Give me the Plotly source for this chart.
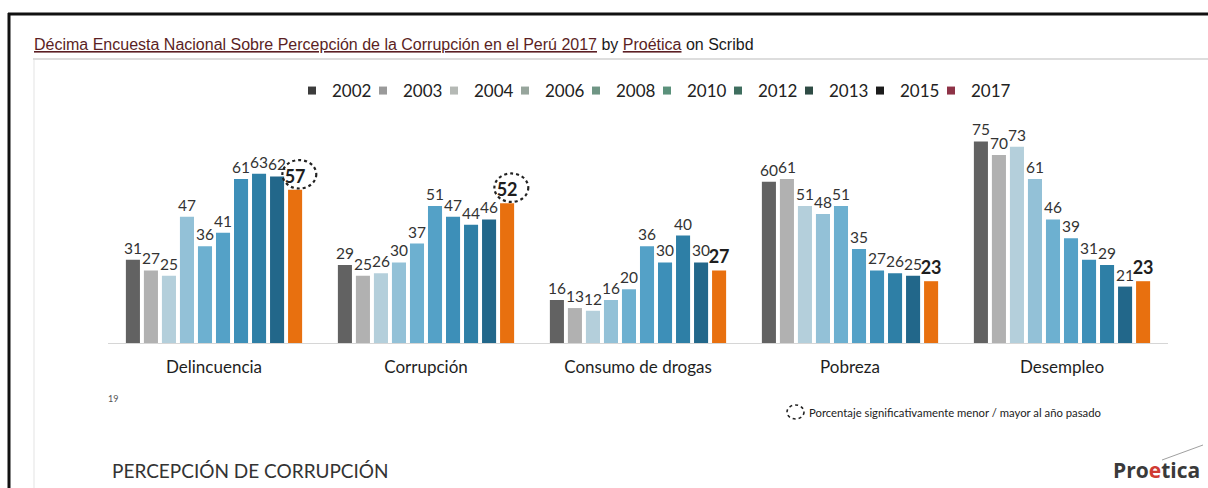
import plotly.graph_objects as go

categories = ["Delincuencia", "Corrupción", "Consumo de drogas", "Pobreza", "Desempleo"]
years = ["2002", "2003", "2004", "2006", "2008", "2010", "2012", "2013", "2015", "2017"]

v2002 = [31, 29, 16, 60, 75]
v2003 = [27, 25, 13, 61, 70]
v2004 = [25, 26, 12, 51, 73]
v2006 = [47, 30, 16, 48, 61]
v2008 = [36, 37, 20, 51, 46]
v2010 = [41, 51, 36, 35, 39]
v2012 = [61, 47, 30, 27, 31]
v2013 = [63, 44, 40, 26, 29]
v2015 = [62, 46, 30, 25, 21]
v2017 = [57, 52, 27, 23, 23]
series = [v2002, v2003, v2004, v2006, v2008, v2010, v2012, v2013, v2015, v2017]

significant = ["Delincuencia", "Corrupción"]

bar_colors = ["#626262", "#b1b1b1", "#b4cfdb", "#93c1d7", "#6db0d0", "#54a1c7",
              "#3d8fb8", "#2e7fa6", "#22678a", "#e8700f"]
legend_colors = ["#3c3c3c", "#9a9a9a", "#b5b9b5", "#97a59c", "#6f9584", "#5b917b",
                 "#3f6e5f", "#2f4c45", "#1c1c1c", "#8e3347"]

FONT = "Lato"
W, H = 1208, 488
L, R, T, B = 108, 40, 120, 145
PW, PH = W - L - R, H - T - B


def px(x):
    return (x - L) / PW


def py(y):
    return (H - B - y) / PH


fig = go.Figure()

for yr, vals, col in zip(years, series, bar_colors):
    last = yr == "2017"
    fig.add_trace(go.Bar(
        x=categories, y=vals, name=yr, showlegend=False,
        marker=dict(color=col, line=dict(width=0)),
        text=vals,
        texttemplate="<b>%{y}</b>" if last else "%{y}",
        textposition="outside",
        constraintext="none",
        cliponaxis=False,
        textfont=dict(family=FONT, size=18 if last else 15.5, color="#1e1e1e" if last else "#333333"),
        hoverinfo="skip",
    ))

for yr, col in zip(years, legend_colors):
    fig.add_trace(go.Scatter(
        x=[None], y=[None], mode="markers", name=yr, showlegend=True,
        marker=dict(symbol="square", size=8, color=col),
    ))
# spacer entry so the last legend label is not clipped
fig.add_trace(go.Scatter(
    x=[None], y=[None], mode="markers", name=" ", showlegend=True,
    marker=dict(symbol="square", size=1, color="rgba(0,0,0,0)"),
))

bargap = 0.15
n = len(years)
slot = (1 - bargap) / n
off17 = -(1 - bargap) / 2 + slot * (n - 0.5)

shapes = []
for i, c in enumerate(categories):
    if c in significant:
        v = v2017[i]
        cx = i + off17 + 0.02
        cy = v + 5.8
        shapes.append(dict(type="circle", xref="x", yref="y",
                           x0=cx - 0.08, x1=cx + 0.08, y0=cy - 5.3, y1=cy + 5.3,
                           line=dict(color="#222222", width=2.2, dash="dot")))

# page decorations
shapes += [
    dict(type="line", xref="paper", yref="paper", x0=px(8), x1=px(1208), y0=py(14), y1=py(14),
         line=dict(color="#111111", width=3)),
    dict(type="line", xref="paper", yref="paper", x0=px(9), x1=px(9), y0=py(13), y1=py(488),
         line=dict(color="#111111", width=3)),
    dict(type="line", xref="paper", yref="paper", x0=px(33), x1=px(1208), y0=py(59), y1=py(59),
         line=dict(color="#d2d2d2", width=1.5)),
    dict(type="line", xref="paper", yref="paper", x0=px(34), x1=px(34), y0=py(60), y1=py(488),
         line=dict(color="#ececec", width=1.5)),
    dict(type="circle", xref="paper", yref="paper", x0=px(787), x1=px(804), y0=py(405), y1=py(419),
         line=dict(color="#222222", width=1.6, dash="dot")),
    dict(type="line", xref="paper", yref="paper", x0=px(1162), x1=px(1203), y0=py(460), y1=py(445),
         line=dict(color="#a0a0a0", width=1)),
]

link = "#5b1f24"
annotations = [
    dict(xref="paper", yref="paper", x=px(32), y=py(45), xanchor="left", yanchor="middle",
         showarrow=False, align="left",
         text=(f"<span style='color:{link}'><u>Décima Encuesta Nacional Sobre Percepción de la Corrupción en el Perú 2017</u></span>"
               f" by <span style='color:{link}'><u>Proética</u></span> on Scribd"),
         font=dict(family="Liberation Sans", size=16, color="#1a1a1a")),
    dict(xref="paper", yref="paper", x=px(106), y=py(398), xanchor="left", yanchor="middle",
         showarrow=False, text="19", font=dict(family=FONT, size=9, color="#555555")),
    dict(xref="paper", yref="paper", x=px(807), y=py(412), xanchor="left", yanchor="middle",
         showarrow=False, text="Porcentaje significativamente menor / mayor al año pasado",
         font=dict(family=FONT, size=11.3, color="#222222")),
    dict(xref="paper", yref="paper", x=px(110), y=py(470), xanchor="left", yanchor="middle",
         showarrow=False, text="PERCEPCIÓN DE CORRUPCIÓN",
         font=dict(family=FONT, size=19, color="#333333")),
    dict(xref="paper", yref="paper", x=px(1202), y=py(470), xanchor="right", yanchor="middle",
         showarrow=False,
         text="<b>Pro<span style='color:#d03a32'>e</span>tica</b>",
         font=dict(family="Open Sans", size=21, color="#3a3a3a")),
]

fig.update_layout(
    width=W, height=H,
    margin=dict(l=L, r=R, t=T, b=B),
    paper_bgcolor="white", plot_bgcolor="white",
    barmode="group", bargap=bargap, bargroupgap=0.22,
    font=dict(family=FONT, color="#222222"),
    showlegend=True,
    legend=dict(orientation="h", x=px(292), y=py(91), xanchor="left", yanchor="middle",
                font=dict(family=FONT, size=17, color="#222222"),
                entrywidth=26, entrywidthmode="pixels", itemwidth=30,
                bgcolor="rgba(0,0,0,0)"),
    xaxis=dict(showgrid=False, showline=True, linecolor="#d6d6d6", linewidth=1,
               ticks="outside", ticklen=9, tickcolor="rgba(0,0,0,0)",
               tickfont=dict(family=FONT, size=17, color="#1e1e1e"), fixedrange=True),
    yaxis=dict(range=[0, 83], visible=False, showgrid=False, zeroline=False, fixedrange=True),
    shapes=shapes,
    annotations=annotations,
)

fig.write_html("out.html")
